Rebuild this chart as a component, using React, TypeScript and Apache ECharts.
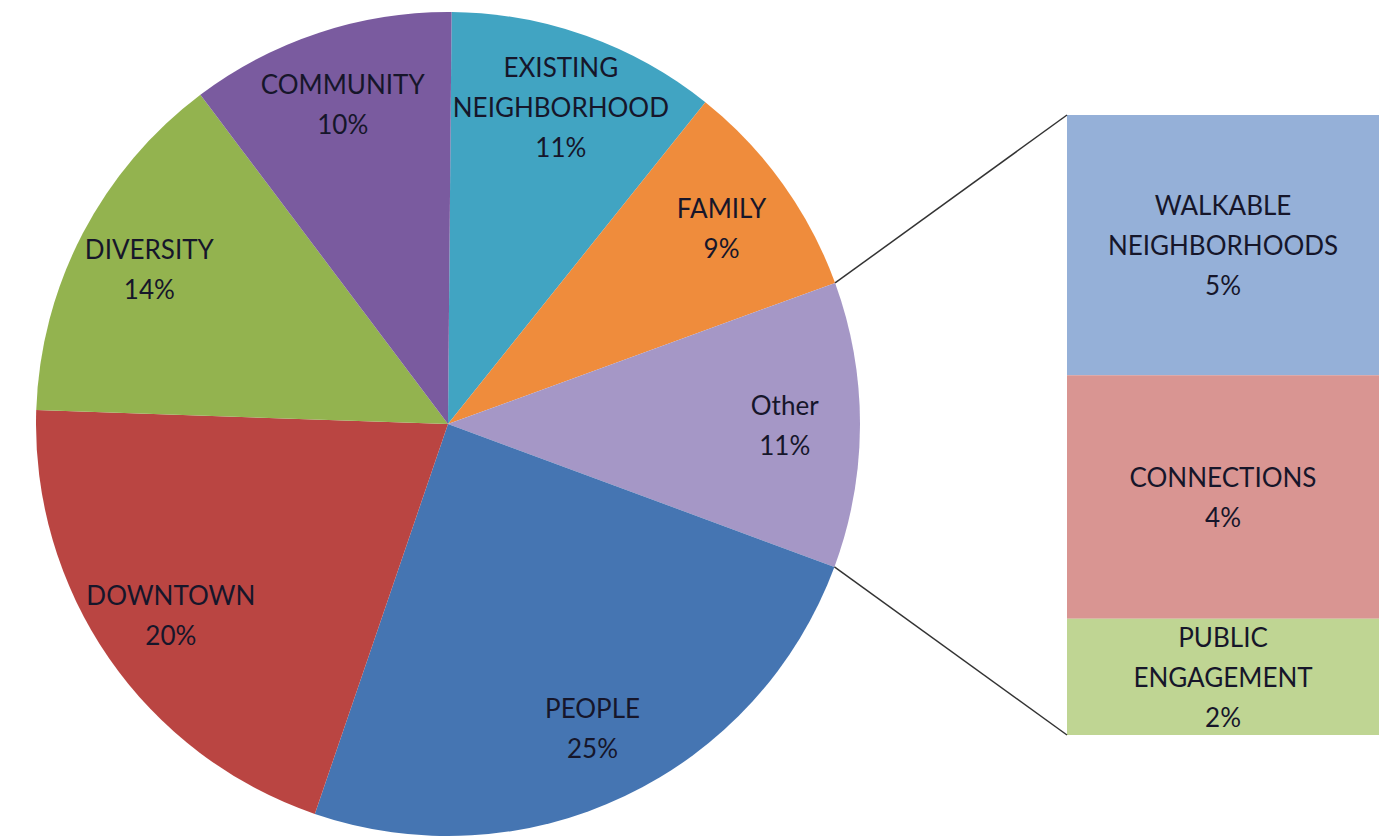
import React, { useEffect, useRef } from "react";
import * as echarts from "echarts";

// ---- data ----
const PIE_NAMES = [
  "EXISTING\nNEIGHBORHOOD",
  "FAMILY",
  "Other",
  "PEOPLE",
  "DOWNTOWN",
  "DIVERSITY",
  "COMMUNITY",
];
const PIE_VALUES_MAIN = [10.6, 8.7, 0, 24.6, 20.3, 14.2, 10.4]; // index 2 ("Other") filled from breakdown
const OTHER_INDEX = 2;
const SUB_NAMES = ["WALKABLE\nNEIGHBORHOODS", "CONNECTIONS", "PUBLIC\nENGAGEMENT"];
const SUB_VALUES = [4.7, 4.4, 2.1];

const PIE_COLORS = ["#41A4C2", "#EF8C3C", "#A597C6", "#4575B2", "#BA4542", "#93B34F", "#7A5B9F"];
const SUB_COLORS = ["#95B0D8", "#D99592", "#BFD593"];

// ---- layout ----
const CX = 448;
const CY = 424;
const R = 412;
const START_ANGLE = 89.5;
const GRID = { left: 1067, top: 115, width: 312, height: 620 };

const TEXT = {
  fontFamily: "Lato, 'Liberation Sans', sans-serif",
  fontSize: 26,
  lineHeight: 40,
  color: "#16162a",
};

export default function App() {
  const ref = useRef<HTMLDivElement>(null);
  useEffect(() => {
    if (!ref.current) return;
    const chart = echarts.init(ref.current, undefined, { renderer: "svg" });
    const otherTotal = SUB_VALUES.reduce((a, b) => a + b, 0);
    const pieValues = PIE_VALUES_MAIN.map((v, i) => (i === OTHER_INDEX ? otherTotal : v));
    const total = pieValues.reduce((a, b) => a + b, 0);
    const pieData = pieValues.map((v, i) => ({
      name: PIE_NAMES[i],
      value: v,
      itemStyle: { color: PIE_COLORS[i] },
    }));

    // connector line endpoints derived from the "Other" slice boundaries
    const before = pieValues.slice(0, OTHER_INDEX).reduce((a, b) => a + b, 0);
    const base = 90 - START_ANGLE;
    const a1 = ((base + (before / total) * 360) * Math.PI) / 180;
    const a2 = ((base + ((before + otherTotal) / total) * 360) * Math.PI) / 180;
    const p1 = [CX + R * Math.sin(a1), CY - R * Math.cos(a1)];
    const p2 = [CX + R * Math.sin(a2), CY - R * Math.cos(a2)];

    const fmtPct = (v: number) => `${Math.round((v / total) * 100)}%`;

    chart.setOption({
      animation: false,
      backgroundColor: "#ffffff",
      grid: { ...GRID, containLabel: false },
      xAxis: { type: "category", data: ["Other"], show: false, boundaryGap: true },
      yAxis: { type: "value", min: 0, max: otherTotal, inverse: true, show: false },
      series: [
        {
          type: "pie",
          center: [CX, CY],
          radius: [0, R],
          startAngle: START_ANGLE,
          clockwise: true,
          data: pieData,
          label: { show: false },
          labelLine: { show: false },
          itemStyle: { borderWidth: 0 },
          silent: true,
        },
        {
          type: "pie",
          center: [CX, CY],
          radius: [R * 0.62, R],
          startAngle: START_ANGLE,
          clockwise: true,
          data: pieValues.map((v, i) => ({
            name: PIE_NAMES[i],
            value: v,
            itemStyle: { color: "rgba(0,0,0,0)" },
          })),
          label: {
            show: true,
            position: "inside",
            ...TEXT,
            formatter: (p: any) => `${p.name}\n${fmtPct(p.value)}`,
          },
          labelLine: { show: false },
          itemStyle: { borderWidth: 0 },
          silent: true,
          z: 5,
        },
        ...SUB_VALUES.map((v, i) => ({
          type: "bar",
          name: SUB_NAMES[i],
          stack: "other",
          data: [v],
          barWidth: "100%",
          barCategoryGap: "0%",
          itemStyle: { color: SUB_COLORS[i] },
          label: {
            show: true,
            position: "inside",
            ...TEXT,
            formatter: (p: any) => `${p.seriesName}\n${fmtPct(p.value)}`,
          },
          silent: true,
        })),
      ],
      graphic: [
        {
          type: "line",
          shape: { x1: p1[0], y1: p1[1], x2: GRID.left, y2: GRID.top },
          style: { stroke: "#333333", lineWidth: 1.5 },
          z: 10,
        },
        {
          type: "line",
          shape: { x1: p2[0], y1: p2[1], x2: GRID.left, y2: GRID.top + GRID.height },
          style: { stroke: "#333333", lineWidth: 1.5 },
          z: 10,
        },
      ],
    });
    return () => chart.dispose();
  }, []);
  return (
    <div
      ref={ref}
      style={{ position: "absolute", left: 0, top: 0, width: 1400, height: 837, background: "#fff" }}
    />
  );
}
